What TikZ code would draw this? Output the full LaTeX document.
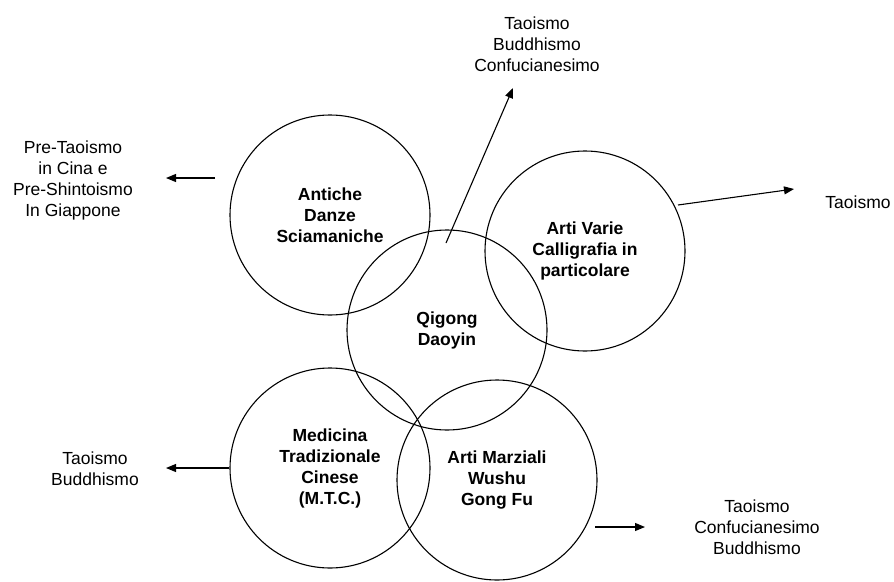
\documentclass[tikz,border=0pt]{standalone}
\usepackage{fontspec}
\setmainfont{Liberation Sans}
\usetikzlibrary{arrows,arrows.meta,positioning}

\begin{document}
\begin{tikzpicture}
    [
        x=1pt, y=-1pt,
        Area/.style={circle,draw,line width=1.1pt,minimum size=200pt,inner sep=0pt,align=center,font=\fontsize{17.5}{21}\selectfont\bfseries},
        Source/.style={align=center,inner sep=0pt,font=\fontsize{17.5}{21}\selectfont},
        Link/.style={-{Triangle[length=10pt,width=8pt]},line width=1.1pt}
    ]
    \useasboundingbox (0,0) rectangle (894,581);

    \node[Area] (danze) at (330,215)   {Antiche\\Danze\\Sciamaniche};
    \node[Area] (artivarie) at (585,251)  {Arti Varie\\Calligrafia in\\particolare};
    \node[Area] (qigong) at (447,330)  {Qigong\\Daoyin};
    \node[Area] (medicina) at (330,468)  {Medicina\\Tradizionale\\Cinese\\(M.T.C.)};
    \node[Area] (marziali) at (497,480)  {Arti Marziali\\Wushu\\Gong Fu};

    \node[Source] (src_danze) at (73,180) {Pre-Taoismo\\in Cina e\\Pre-Shintoismo\\In Giappone};
    \node[Source] (src_qigong) at (537,44) {Taoismo\\Buddhismo\\Confucianesimo};
    \node[Source] (src_artivarie) at (858,202) {Taoismo};
    \node[Source] (src_medicina) at (95,469) {Taoismo\\Buddhismo};
    \node[Source] (src_marziali) at (757,527) {Taoismo\\Confucianesimo\\Buddhismo};

    \coordinate (from_danze) at (215,178);
    \coordinate (to_danze) at (166,178);
    \coordinate (from_qigong) at (446,243);
    \coordinate (to_qigong) at (513,88);
    \coordinate (from_artivarie) at (678,205);
    \coordinate (to_artivarie) at (794,189);
    \coordinate (to_medicina) at (166,468);
    \coordinate (from_marziali) at (595,527);
    \coordinate (to_marziali) at (645,527);

    \draw[Link] (from_danze) -- (to_danze);
    \draw[Link] (from_qigong) -- (to_qigong);
    \draw[Link] (from_artivarie) -- (to_artivarie);
    \draw[Link] (medicina.west) -- (to_medicina);
    \draw[Link] (from_marziali) -- (to_marziali);
\end{tikzpicture}
\end{document}
